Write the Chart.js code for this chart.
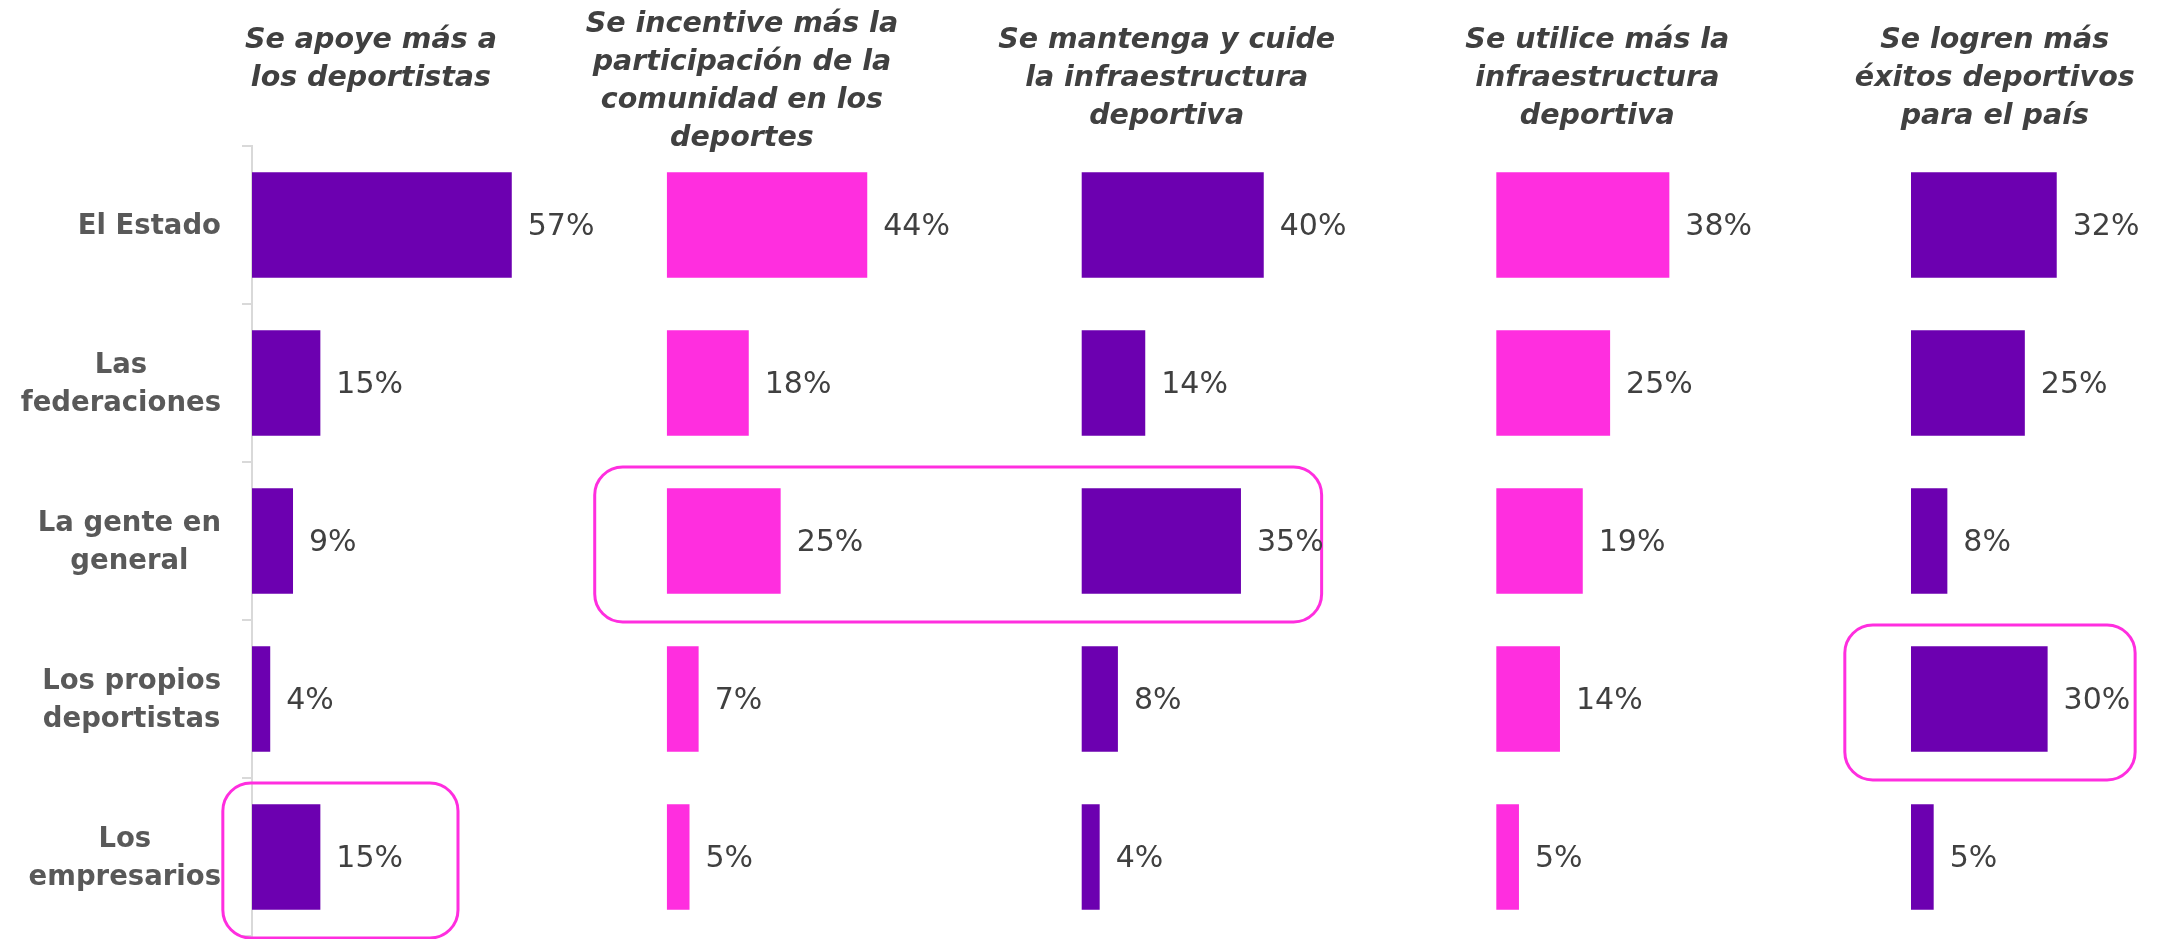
<!DOCTYPE html>
<html>
<head>
<meta charset="utf-8">
<title>Apoyo al deporte</title>
<script src="https://cdn.jsdelivr.net/npm/chart.js@4.4.1/dist/chart.umd.min.js"></script>
<style>
    html, body { margin: 0; padding: 0; background: #fff; }
    #wrap { position: relative; width: 2157px; height: 939px; }
</style>
</head>
<body>
<div id="wrap"><canvas id="canvas"></canvas></div>
<script>
var categories = ["El Estado", ["Las", "federaciones"], ["La gente en", "general"], ["Los propios", "deportistas"], ["Los", "empresarios"]];

var headers = [
    ["Se apoye más a", "los deportistas"],
    ["Se incentive más la", "participación de la", "comunidad en los", "deportes"],
    ["Se mantenga y cuide", "la infraestructura", "deportiva"],
    ["Se utilice más la", "infraestructura", "deportiva"],
    ["Se logren más", "éxitos deportivos", "para el país"]
];

var apoyo = [57, 15, 9, 4, 15];
var incentivo = [44, 18, 25, 7, 5];
var mantenimiento = [40, 14, 35, 8, 4];
var uso = [38, 25, 19, 14, 5];
var exitos = [32, 25, 8, 30, 5];

var PURPLE = "#6c00b0";
var PINK = "#ff2edf";
var series = [apoyo, incentivo, mantenimiento, uso, exitos];
var colors = [PURPLE, PINK, PURPLE, PINK, PURPLE];
var panelMax = [91, 91, 91, 91, 54];

var FONT = '"DejaVu Sans", "Liberation Sans", sans-serif';

// headers, category labels, value labels and the highlight boxes
var decorations = {
    id: 'decorations',
    afterDraw: function(chart, args, opts) {
        var ctx = chart.ctx;
        var yScale = chart.scales.y;
        ctx.save();

        // panel headers
        ctx.fillStyle = '#404040';
        ctx.font = 'italic bold 28.5px ' + FONT;
        ctx.textAlign = 'center';
        ctx.textBaseline = 'middle';
        headers.forEach(function(lines, k) {
            var cx = chart.scales['x' + k].getPixelForValue(opts.headerAt[k]);
            lines.forEach(function(line, j) {
                ctx.fillText(line, cx, opts.headerTop[k] + j * 38);
            });
        });

        // category labels, each block right aligned, lines centred
        ctx.fillStyle = '#595959';
        ctx.font = 'bold 27.5px ' + FONT;
        categories.forEach(function(label, i) {
            var lines = [].concat(label);
            var w = 0;
            lines.forEach(function(l) { w = Math.max(w, ctx.measureText(l).width); });
            var cx = yScale.right - 31 - w / 2;
            var cy = yScale.getPixelForTick(i);
            var y0 = cy - (lines.length - 1) * 38 / 2;
            lines.forEach(function(l, j) {
                ctx.fillText(l, cx, y0 + j * 38 + 2);
            });
        });

        // highlight boxes
        ctx.strokeStyle = PINK;
        ctx.lineWidth = 3;
        opts.boxes.forEach(function(b) {
            var x0 = chart.scales['x' + b.from[0]].getPixelForValue(b.from[1]);
            var x1 = chart.scales['x' + b.to[0]].getPixelForValue(b.to[1]);
            var cy = yScale.getPixelForTick(b.row);
            ctx.beginPath();
            ctx.roundRect(x0, cy - 74, x1 - x0, 155, 28);
            ctx.stroke();
        });

        // value labels
        ctx.fillStyle = '#404040';
        ctx.font = '30px ' + FONT;
        ctx.textAlign = 'left';
        chart.data.datasets.forEach(function(ds, k) {
            var meta = chart.getDatasetMeta(k);
            meta.data.forEach(function(bar, i) {
                ctx.fillText(ds.data[i] + '%', bar.x + 16, bar.y + 2);
            });
        });
        ctx.restore();
    }
};

var scales = {
    y: {
        type: 'category',
        position: 'left',
        afterFit: function(scale) { scale.width = 252; },
        ticks: { display: false },
        grid: { drawOnChartArea: false, drawTicks: true, tickLength: 10, color: '#d9d9d9', lineWidth: 2, offset: true },
        border: { display: true, color: '#d9d9d9', width: 2 }
    }
};
// one x axis per panel, laid side by side in one stack (top boxes are placed by descending weight)
series.forEach(function(s, k) {
    scales['x' + k] = {
        type: 'linear',
        position: 'top',
        stack: 'panels',
        stackWeight: panelMax[k],
        weight: series.length - k,
        min: 0,
        max: panelMax[k],
        ticks: { display: false },
        grid: { display: false, drawTicks: false },
        border: { display: false },
        title: { display: false }
    };
});

var datasets = series.map(function(s, k) {
    return {
        label: headers[k].join(' '),
        data: s,
        xAxisID: 'x' + k,
        yAxisID: 'y',
        backgroundColor: colors[k],
        borderWidth: 0,
        grouped: false,
        barPercentage: 0.668,
        categoryPercentage: 1
    };
});

var chart = new Chart(document.getElementById('canvas'), {
    type: 'bar',
    data: { labels: categories, datasets: datasets },
    options: {
        indexAxis: 'y',
        responsive: true,
        maintainAspectRatio: false,
        animation: false,
        layout: { padding: { top: 146, bottom: 3, left: 0, right: 0 } },
        scales: scales,
        plugins: {
            legend: { display: false },
            tooltip: { enabled: false },
            decorations: {
                headerAt: [26.1, 16.5, 18.7, 22.2, 18.4],
                headerTop: [41, 25, 41, 41, 41],
                boxes: [
                    { row: 4, from: [0, -6.4], to: [0, 45.2] },
                    { row: 2, from: [1, -15.8], to: [2, 52.7] },
                    { row: 3, from: [4, -14.5], to: [4, 49.2] }
                ]
            }
        }
    },
    plugins: [decorations]
});
</script>
</body>
</html>
